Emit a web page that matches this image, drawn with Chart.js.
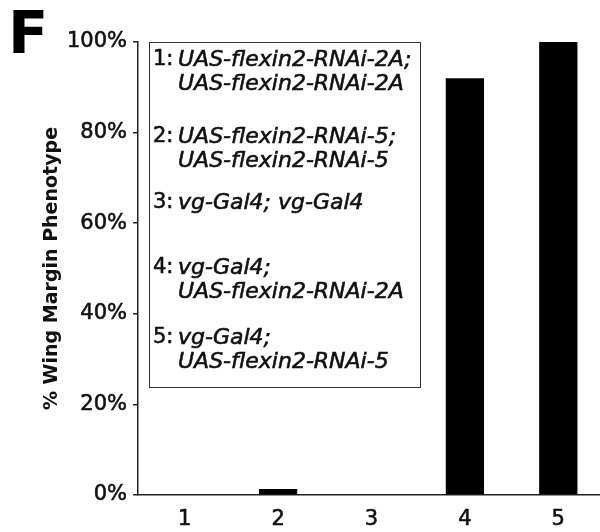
<!DOCTYPE html>
<html>
<head>
<meta charset="utf-8">
<script src="https://cdn.jsdelivr.net/npm/chart.js@4.4.1/dist/chart.umd.min.js"></script>
<style>
  html, body { margin: 0; padding: 0; background: #fff; overflow: hidden; }
  #wrap { position: relative; width: 605px; height: 532px; }
</style>
</head>
<body>
<div id="wrap"><canvas id="chart" width="605" height="532"></canvas></div>
<script>
const categories = ["1", "2", "3", "4", "5"];
const phenotypePercent = [0, 1.3, 0, 92, 100];
const yTickValues = [0, 20, 40, 60, 80, 100];
const panelLetter = "F";
const yTitle = "% Wing Margin Phenotype";

// key shown in the box: number, then one or two genotype lines
const keyNumbers = ["1:", "2:", "3:", "4:", "5:"];
const keyLines = [
  ["UAS-flexin2-RNAi-2A;", "UAS-flexin2-RNAi-2A"],
  ["UAS-flexin2-RNAi-5;", "UAS-flexin2-RNAi-5"],
  ["vg-Gal4; vg-Gal4"],
  ["vg-Gal4;", "UAS-flexin2-RNAi-2A"],
  ["vg-Gal4;", "UAS-flexin2-RNAi-5"]
];

const ink = "#111";
const fontFamily = "'DejaVu Sans', Verdana, sans-serif";

// fill + thin stroke so the text reads a little heavier, like the scan
function heavyText(ctx, txt, x, y) {
  ctx.fillText(txt, x, y);
  ctx.strokeText(txt, x, y);
}

const keyBoxPlugin = {
  id: "keyBox",
  afterDraw(chart) {
    const ctx = chart.ctx;
    ctx.save();

    // panel letter
    ctx.fillStyle = "#000";
    ctx.font = `bold 59px ${fontFamily}`;
    ctx.textBaseline = "alphabetic";
    ctx.textAlign = "left";
    ctx.fillText(panelLetter, 8, 53);

    // key box
    const box = { left: 149.5, top: 42.5, right: 420.5, bottom: 387.5 };
    ctx.fillStyle = "#fff";
    ctx.fillRect(box.left, box.top, box.right - box.left, box.bottom - box.top);
    ctx.strokeStyle = "#3a2e2e";
    ctx.lineWidth = 1;
    ctx.strokeRect(box.left, box.top, box.right - box.left, box.bottom - box.top);

    const entryTops = [60, 137, 203, 268, 338];
    const lineGap = 24.5;
    ctx.textBaseline = "middle";
    ctx.fillStyle = ink;
    ctx.strokeStyle = ink;
    ctx.lineWidth = 0.6;
    keyNumbers.forEach((num, i) => {
      ctx.font = `21px ${fontFamily}`;
      heavyText(ctx, num, 153, entryTops[i]);
      ctx.font = `oblique 22px ${fontFamily}`;
      keyLines[i].forEach((txt, j) => {
        heavyText(ctx, txt, 178, entryTops[i] + j * lineGap);
      });
    });
    ctx.restore();
  }
};

new Chart(document.getElementById("chart"), {
  type: "bar",
  data: {
    labels: categories,
    datasets: [{
      label: yTitle,
      data: phenotypePercent,
      backgroundColor: "#000",
      borderWidth: 0,
      barPercentage: 0.41,
      categoryPercentage: 1
    }]
  },
  options: {
    responsive: false,
    animation: false,
    devicePixelRatio: 1,
    layout: { padding: { top: 42, left: 0, right: 0, bottom: 0 } },
    plugins: {
      legend: { display: false },
      tooltip: { enabled: false }
    },
    scales: {
      x: {
        grid: { display: false, drawTicks: false },
        border: { display: true, color: "#222", width: 1.5 },
        ticks: {
          color: ink,
          padding: 12,
          textStrokeColor: ink,
          textStrokeWidth: 0.6,
          font: { family: fontFamily, size: 21 }
        },
        afterFit(scale) { scale.height = 37; }
      },
      y: {
        min: 0,
        max: 100,
        afterBuildTicks(scale) {
          scale.ticks = yTickValues.map((v) => ({ value: v }));
        },
        grid: {
          drawOnChartArea: false,
          drawTicks: true,
          tickLength: 5,
          color: "#222",
          lineWidth: 1.5
        },
        border: { display: true, color: "#222", width: 1.5 },
        ticks: {
          color: ink,
          padding: 6,
          textStrokeColor: ink,
          textStrokeWidth: 0.6,
          font: { family: fontFamily, size: 21 },
          callback: (v) => v + "%"
        },
        title: {
          display: true,
          text: yTitle,
          color: ink,
          padding: { top: 41, bottom: 0 },
          font: { family: fontFamily, size: 19, weight: "bold" }
        },
        afterFit(scale) { scale.width = 138; }
      }
    }
  },
  plugins: [keyBoxPlugin]
});
</script>
</body>
</html>
